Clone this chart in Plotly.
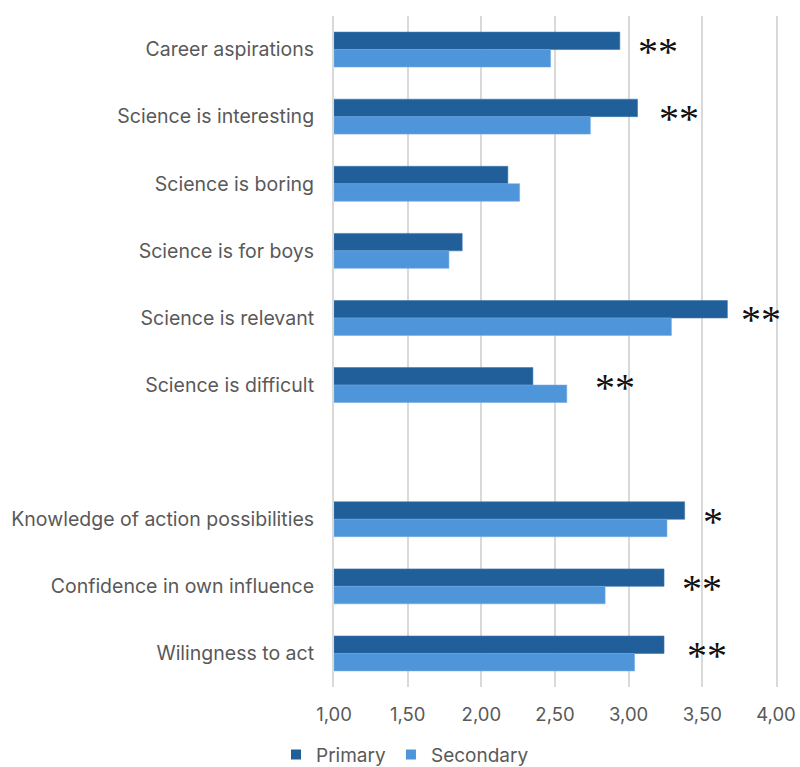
import plotly.graph_objects as go

# Survey items (top to bottom); a blank row separates the two groups
categories = [
    "Career aspirations",
    "Science is interesting",
    "Science is boring",
    "Science is for boys",
    "Science is relevant",
    "Science is difficult",
    " ",
    "Knowledge of action possibilities",
    "Confidence in own influence",
    "Wilingness to act",
]

primary = [2.94, 3.06, 2.18, 1.87, 3.67, 2.35, None, 3.38, 3.24, 3.24]
secondary = [2.47, 2.74, 2.26, 1.78, 3.29, 2.58, None, 3.26, 2.84, 3.04]

# Significance markers and the x value where each is placed
sig_labels = ["**", "**", "", "", "**", "**", "", "*", "**", "**"]
sig_x = [3.20, 3.34, None, None, 3.90, 2.91, None, 3.57, 3.50, 3.53]

tick_vals = [1.0, 1.5, 2.0, 2.5, 3.0, 3.5, 4.0]
tick_text = ["1,00", "1,50", "2,00", "2,50", "3,00", "3,50", "4,00"]

series_names = ["Primary", "Secondary"]
series_colors = ["#215F9A", "#4E95D9"]
series_edges = ["#3d78b0", "#74abe0"]

font_family = "Inter, Open Sans, sans-serif"
text_grey = "#595959"
grid_grey = "#d9d9d9"

fig = go.Figure()
for name, vals, col, edge in zip(series_names, [primary, secondary], series_colors, series_edges):
    fig.add_trace(go.Bar(
        y=categories, x=[None if v is None else v - 1 for v in vals], base=1,
        orientation="h", name=name, showlegend=False,
        marker=dict(color=col, line=dict(color=edge, width=0.6)),
    ))
# square legend keys
for name, col in zip(series_names, series_colors):
    fig.add_trace(go.Scatter(
        x=[None], y=[None], mode="markers", name=name,
        marker=dict(symbol="square", size=10, color=col),
    ))

for cat, lab, xv in zip(categories, sig_labels, sig_x):
    if lab:
        fig.add_annotation(
            x=xv, y=cat, text=lab, showarrow=False,
            font=dict(family="Liberation Serif", size=40, color="#111111"),
            xanchor="center", yanchor="middle", yshift=-2,
        )

fig.update_layout(
    width=800, height=767,
    margin=dict(l=334, r=24, t=16, b=80, autoexpand=False),
    paper_bgcolor="white", plot_bgcolor="white",
    barmode="group", bargap=0.48, bargroupgap=0,
    font=dict(family=font_family, color=text_grey, size=19),
    legend=dict(
        orientation="h", xref="container", x=0.345, xanchor="left",
        yref="container", y=0.016, yanchor="middle",
        font=dict(size=19, color=text_grey), itemwidth=30, traceorder="normal",
        tracegroupgap=0,
    ),
    showlegend=True,
)
fig.update_xaxes(
    range=[1, 4], tickvals=tick_vals, ticktext=tick_text,
    showgrid=True, gridcolor=grid_grey, gridwidth=2,
    zeroline=False, showline=False, ticks="",
    tickfont=dict(size=18.5, color=text_grey), ticklabelstandoff=14,
)
fig.update_yaxes(
    categoryorder="array", categoryarray=categories, autorange="reversed",
    showgrid=False, ticks="",
    showline=True, mirror=True, linecolor=grid_grey, linewidth=2,
    tickfont=dict(size=19.5, color=text_grey), ticklabelstandoff=14,
)

fig.write_html("out.html")
